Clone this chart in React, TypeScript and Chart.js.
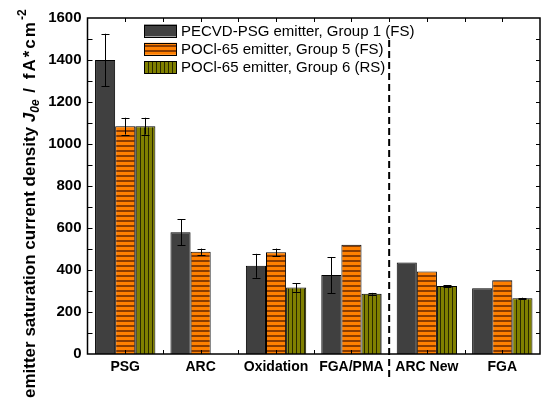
import React, { useEffect, useRef } from 'react';
import { Chart, registerables } from 'chart.js';
Chart.register(...registerables);

const categories = ['PSG', 'ARC', 'Oxidation', 'FGA/PMA', 'ARC New', 'FGA'];
const seriesLabels = [
  'PECVD-PSG emitter, Group 1 (FS)',
  'POCl-65 emitter, Group 5 (FS)',
  'POCl-65 emitter, Group 6 (RS)',
];
const group1 = [1400, 580, 420, 376, 436, 313];
const group1Err = [125, 62, 57, 86, 0, 0];
const group5 = [1085, 487, 484, 520, 393, 351];
const group5Err = [40, 15, 18, 0, 0, 0];
const group6 = [1085, null, 317, 287, 324, 265];
const group6Err = [40, 0, 20, 4, 4, 3];
const yTicks = [0, 200, 400, 600, 800, 1000, 1200, 1400, 1600];

const FONT = '"Liberation Sans", Arial, sans-serif';

function makeStripes(horizontal: boolean, base: string, stripe: string, period: number, thick: number) {
  const c = document.createElement('canvas');
  c.width = period;
  c.height = period;
  const g = c.getContext('2d')!;
  g.fillStyle = base;
  g.fillRect(0, 0, period, period);
  g.fillStyle = stripe;
  if (horizontal) g.fillRect(0, 0, period, thick);
  else g.fillRect(0, 0, thick, period);
  return g.createPattern(c, 'repeat')!;
}

export default function App() {
  const ref = useRef<HTMLCanvasElement>(null);
  useEffect(() => {
    document.body.style.margin = '0';
    const canvas = ref.current!;
    const gray = '#404040';
    const orange = makeStripes(true, '#ff8000', '#8a3c00', 5, 2);
    const olive = makeStripes(false, '#808000', '#2a2a00', 4, 1);
    const fills = [gray, orange, olive];
    const errs = [group1Err, group5Err, group6Err];

    const overlay = {
      id: 'overlay',
      afterDatasetsDraw(chart: any) {
        const ctx = chart.ctx as CanvasRenderingContext2D;
        const { left, right, top, bottom } = chart.chartArea;
        const ys = chart.scales.y;
        const xs = chart.scales.x;
        ctx.save();
        // error bars
        ctx.strokeStyle = '#000';
        ctx.lineWidth = 1;
        chart.data.datasets.forEach((ds: any, i: number) => {
          const meta = chart.getDatasetMeta(i);
          ds.data.forEach((v: number | null, j: number) => {
            const e = errs[i][j];
            if (v == null || !e) return;
            const x = Math.round(meta.data[j].x) + 0.5;
            const y1 = ys.getPixelForValue(v + e);
            const y2 = ys.getPixelForValue(v - e);
            ctx.beginPath();
            ctx.moveTo(x, y1);
            ctx.lineTo(x, y2);
            ctx.moveTo(x - 4, Math.round(y1) + 0.5);
            ctx.lineTo(x + 4, Math.round(y1) + 0.5);
            ctx.moveTo(x - 4, Math.round(y2) + 0.5);
            ctx.lineTo(x + 4, Math.round(y2) + 0.5);
            ctx.stroke();
          });
        });
        // frame
        ctx.lineWidth = 1.5;
        ctx.strokeRect(left, top, right - left, bottom - top);
        // ticks
        ctx.lineWidth = 1;
        ctx.beginPath();
        for (let v = 100; v < 1600; v += 100) {
          const y = Math.round(ys.getPixelForValue(v)) + 0.5;
          ctx.moveTo(left, y);
          ctx.lineTo(left + 5, y);
          ctx.moveTo(right, y);
          ctx.lineTo(right - 4, y);
        }
        const n = categories.length;
        for (let k = 1; k < n * 2; k++) {
          const x = Math.round(left + (k * (right - left)) / (n * 2)) + 0.5;
          ctx.moveTo(x, top);
          ctx.lineTo(x, top + 4);
          ctx.moveTo(x, bottom);
          ctx.lineTo(x, bottom - 4);
        }
        ctx.stroke();
        // dashed separator
        const xd = (xs.getPixelForValue(3) + xs.getPixelForValue(4)) / 2;
        ctx.lineWidth = 2;
        ctx.setLineDash([7, 4]);
        ctx.beginPath();
        ctx.moveTo(xd, 40);
        ctx.lineTo(xd, 377);
        ctx.stroke();
        ctx.setLineDash([]);
        // legend
        ctx.font = `15px ${FONT}`;
        ctx.textBaseline = 'middle';
        ctx.textAlign = 'left';
        seriesLabels.forEach((lab, i) => {
          const cy = 30.5 + i * 18.3;
          ctx.fillStyle = fills[i] as any;
          ctx.fillRect(144, cy - 6, 33, 12);
          ctx.lineWidth = 1;
          ctx.strokeStyle = '#000';
          ctx.strokeRect(144.5, Math.round(cy - 6) + 0.5, 32, 12);
          ctx.fillStyle = '#000';
          ctx.fillText(lab, 181, cy + 1);
        });
        // y title
        ctx.translate(35, 398);
        ctx.rotate(-Math.PI / 2);
        ctx.textBaseline = 'alphabetic';
        let px = 0;
        const seg = (t: string, font: string, dy: number, spacing = 0) => {
          ctx.font = font;
          (ctx as any).letterSpacing = `${spacing}px`;
          ctx.fillText(t, px, dy);
          px += ctx.measureText(t).width;
          (ctx as any).letterSpacing = '0px';
        };
        seg('emitter saturation current density ', `bold 17px ${FONT}`, 0);
        seg('J', `italic bold 17px ${FONT}`, 0);
        seg('0e', `italic bold 12px ${FONT}`, 4);
        seg(' / fA*cm', `bold 17px ${FONT}`, 0, 2);
        seg('-2', `bold 12px ${FONT}`, -9);
        ctx.restore();
      },
    };

    const chart = new Chart(canvas, {
      type: 'bar',
      data: {
        labels: categories,
        datasets: [group1, group5, group6].map((d, i) => ({
          label: seriesLabels[i],
          data: d,
          backgroundColor: fills[i] as any,
          borderColor: '#000',
          borderWidth: 1,
          barPercentage: 1,
          categoryPercentage: 0.8,
        })),
      },
      options: {
        responsive: false,
        animation: false,
        layout: { padding: { top: 18, right: 2, left: 0, bottom: 0 } },
        plugins: { legend: { display: false }, tooltip: { enabled: false } },
        scales: {
          x: {
            grid: { display: false, drawTicks: false },
            border: { display: false },
            ticks: { font: { family: FONT, size: 14, weight: 'bold' }, color: '#000', padding: 5 },
            afterFit: (s: any) => { s.height = 49; },
          },
          y: {
            min: 0,
            max: 1600,
            afterBuildTicks: (s: any) => { s.ticks = yTicks.map((v) => ({ value: v })); },
            grid: { display: false, drawTicks: false },
            border: { display: false },
            ticks: {
              font: { family: FONT, size: 15, weight: 'bold' },
              color: '#000',
              padding: 6,
              callback: (v: any) => String(v),
            },
            afterFit: (s: any) => { s.width = 87.5; },
          },
        },
      },
      plugins: [overlay],
    });
    return () => chart.destroy();
  }, []);
  return (
    <div style={{ width: 542, height: 403 }}>
      <canvas ref={ref} width={542} height={403} />
    </div>
  );
}
